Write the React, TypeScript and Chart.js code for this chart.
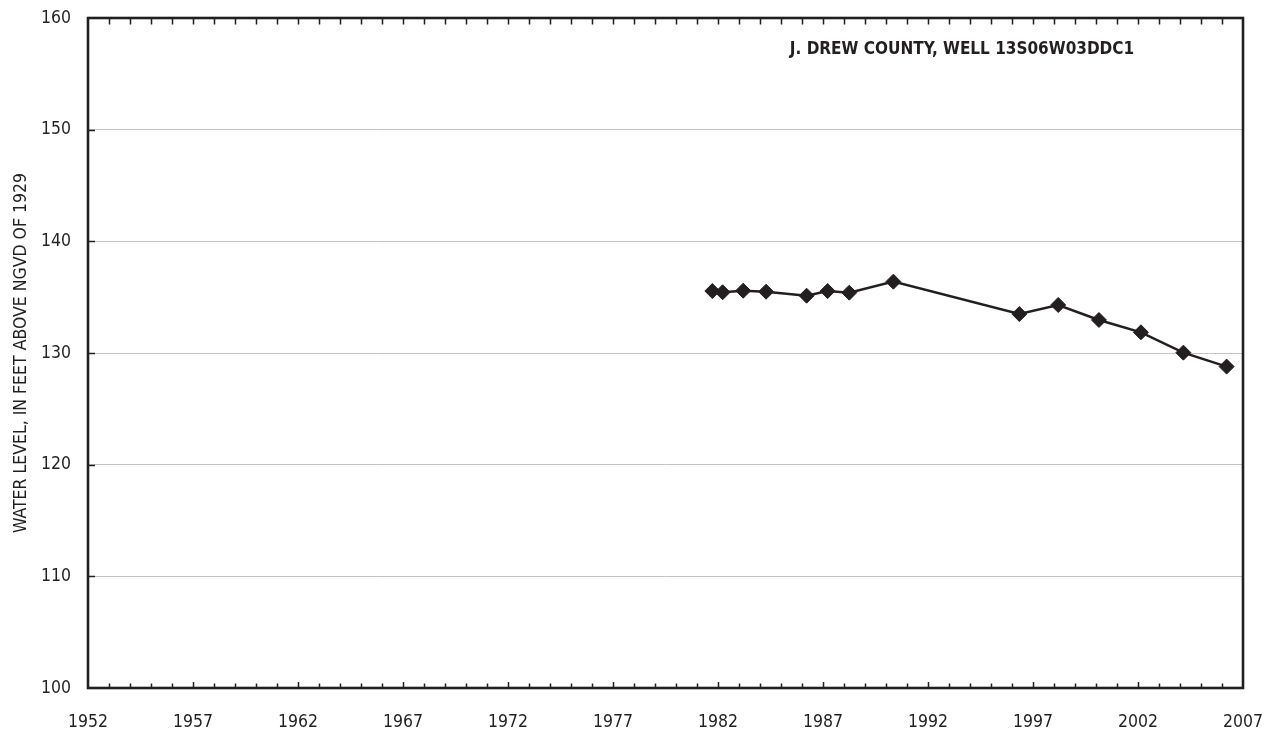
import React, { useEffect, useRef } from "react";
import { Chart, registerables } from "chart.js";

Chart.register(...registerables);

// ---- data ----
const years = [1981.73, 1982.22, 1983.2, 1984.29, 1986.22, 1987.22, 1988.25, 1990.35, 1996.35, 1998.2, 2000.14, 2002.14, 2004.16, 2006.22];
const levels = [135.55, 135.44, 135.58, 135.49, 135.13, 135.55, 135.4, 136.39, 133.49, 134.3, 132.96, 131.85, 130.03, 128.78];
const xTickLabels = ["1952", "1957", "1962", "1967", "1972", "1977", "1982", "1987", "1992", "1997", "2002", "2007"];
const yTickLabels = ["100", "110", "120", "130", "140", "150", "160"];
const chartTitle = "J. DREW COUNTY, WELL 13S06W03DDC1";
const yAxisTitle = "WATER LEVEL, IN FEET ABOVE NGVD OF 1929";

const X_MIN = 1952;
const X_MAX = 2007;
const Y_MIN = 100;
const Y_MAX = 160;

const INK = "#231f20";
const FONT = "'Liberation Sans Narrow', 'DejaVu Sans Condensed', 'Roboto', sans-serif";
const TICK_SIZE = 17.5;

const framePlugin = {
  id: "frameAndTicks",
  afterDraw(chart: any) {
    const { ctx, chartArea } = chart;
    const xs = chart.scales.x;
    const ys = chart.scales.y;
    const { left, right, top, bottom } = chartArea;
    ctx.save();
    ctx.strokeStyle = INK;
    ctx.lineCap = "butt";
    ctx.lineWidth = 1.5;
    for (let yr = X_MIN + 1; yr < X_MAX; yr++) {
      const px = Math.round(xs.getPixelForValue(yr)) + 0.5;
      const major = (yr - X_MIN) % 5 === 0;
      ctx.beginPath();
      ctx.moveTo(px, bottom);
      ctx.lineTo(px, bottom - (major ? 6 : 4.5));
      ctx.moveTo(px, top);
      ctx.lineTo(px, top + 6.5);
      ctx.stroke();
    }
    for (let v = Y_MIN + 10; v < Y_MAX; v += 10) {
      const py = Math.round(ys.getPixelForValue(v)) + 0.5;
      ctx.beginPath();
      ctx.moveTo(left, py);
      ctx.lineTo(left + 7, py);
      ctx.stroke();
    }
    ctx.lineWidth = 2.6;
    ctx.strokeRect(left, top, right - left, bottom - top);
    ctx.fillStyle = INK;
    ctx.font = `bold 17px ${FONT}`;
    ctx.textAlign = "center";
    ctx.textBaseline = "middle";
    ctx.fillText(chartTitle, 962, 50);
    ctx.restore();
  },
};

export default function App() {
  const ref = useRef<HTMLCanvasElement | null>(null);
  useEffect(() => {
    if (!ref.current) return;
    const chart = new Chart(ref.current, {
      type: "line",
      data: {
        datasets: [
          {
            data: years.map((x, i) => ({ x, y: levels[i] })),
            borderColor: INK,
            backgroundColor: INK,
            borderWidth: 2.5,
            pointStyle: "rectRot",
            pointRadius: 7.5,
            pointBorderWidth: 1,
            pointBackgroundColor: INK,
            pointBorderColor: INK,
            tension: 0,
          },
        ],
      },
      options: {
        animation: false,
        responsive: false,
        maintainAspectRatio: false,
        layout: { padding: { left: 0, top: 18, right: 31, bottom: 0 } },
        plugins: { legend: { display: false }, tooltip: { enabled: false }, title: { display: false } },
        scales: {
          x: {
            type: "linear",
            min: X_MIN,
            max: X_MAX,
            afterFit: (s: any) => {
              s.height = 46;
              s.paddingLeft = 0;
              s.paddingRight = 0;
            },
            afterBuildTicks: (s: any) => {
              s.ticks = xTickLabels.map((l) => ({ value: Number(l) }));
            },
            grid: { display: false, drawTicks: false },
            border: { display: false },
            ticks: {
              autoSkip: false,
              maxRotation: 0,
              padding: 24,
              color: INK,
              font: { family: FONT, size: TICK_SIZE },
              callback: (_v: any, i: number) => xTickLabels[i],
            },
          },
          y: {
            type: "linear",
            min: Y_MIN,
            max: Y_MAX,
            afterFit: (s: any) => {
              s.width = 88;
              s.paddingTop = 0;
              s.paddingBottom = 0;
            },
            afterBuildTicks: (s: any) => {
              s.ticks = yTickLabels.map((l) => ({ value: Number(l) }));
            },
            grid: { color: "#c4c4c4", lineWidth: 1, drawTicks: false },
            border: { display: false },
            ticks: {
              padding: 17,
              color: INK,
              font: { family: FONT, size: TICK_SIZE },
              callback: (_v: any, i: number) => yTickLabels[i],
            },
            title: {
              display: true,
              text: yAxisTitle,
              color: INK,
              font: { family: FONT, size: TICK_SIZE },
              padding: { top: 11, bottom: 0 },
            },
          },
        },
      },
      plugins: [framePlugin],
    });
    return () => chart.destroy();
  }, []);
  return (
    <div style={{ position: "absolute", left: 0, top: 0, width: 1274, height: 734, background: "#fff" }}>
      <canvas ref={ref} width={1274} height={734} style={{ display: "block", width: 1274, height: 734 }} />
    </div>
  );
}
